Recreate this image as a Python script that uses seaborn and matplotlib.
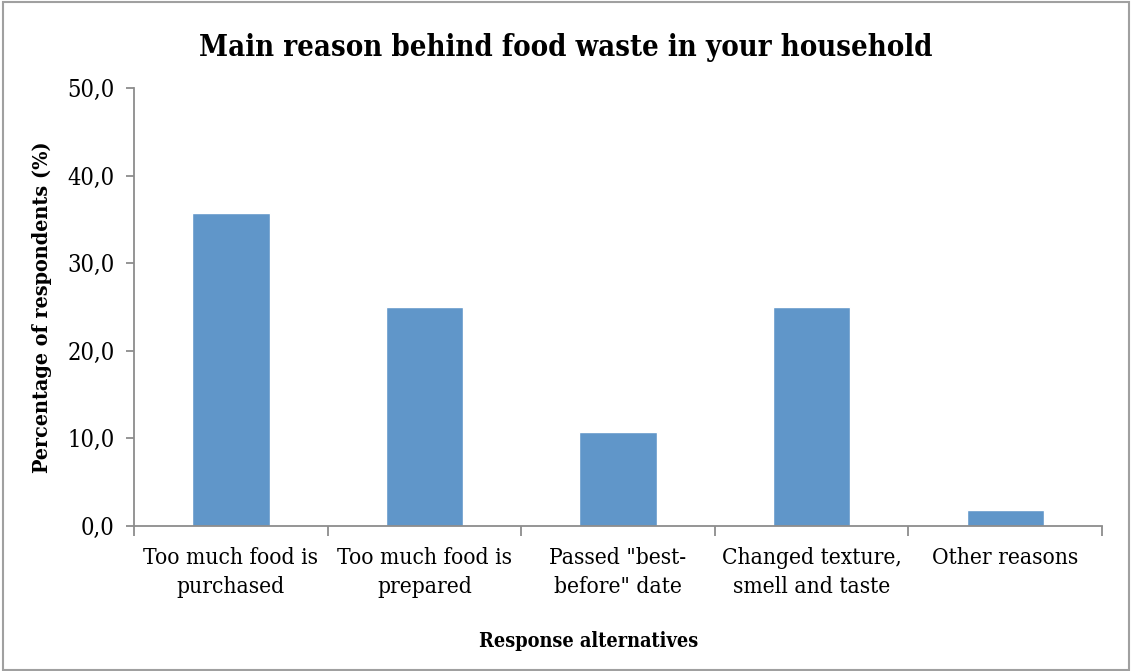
import matplotlib
matplotlib.use("Agg")
import matplotlib.pyplot as plt
from matplotlib.patches import Rectangle
from matplotlib.ticker import FuncFormatter, MultipleLocator
import seaborn as sns
import pandas as pd

categories = [
    "Too much food is\npurchased",
    "Too much food is\nprepared",
    "Passed \"best-\nbefore\" date",
    "Changed texture,\nsmell and taste",
    "Other reasons",
]
percentages = [35.7, 25.0, 10.7, 25.0, 1.8]

title = "Main reason behind food waste in your household"
x_label = "Response alternatives"
y_label = "Percentage of respondents (%)"

sns.set_style("white")
plt.rcParams["font.family"] = ["DejaVu Serif"]
plt.rcParams["font.stretch"] = "condensed"
plt.rcParams["text.color"] = "black"
plt.rcParams["axes.labelcolor"] = "black"
plt.rcParams["xtick.color"] = "black"
plt.rcParams["ytick.color"] = "black"

df = pd.DataFrame({"reason": categories, "pct": percentages})

fig = plt.figure(figsize=(11.31, 6.71), dpi=100)
ax = fig.add_axes([0.1185, 0.2161, 0.9744 - 0.1185, 0.8689 - 0.2161])

sns.barplot(data=df, x="reason", y="pct", color="#6096C9", width=0.4,
            saturation=1, ax=ax)

axis_grey = "#8C8C8C"
ax.set_ylim(0, 50)
ax.set_xlim(-0.5, len(categories) - 0.5)
ax.yaxis.set_major_locator(MultipleLocator(10))
ax.yaxis.set_major_formatter(FuncFormatter(lambda v, _: f"{v:.1f}".replace(".", ",")))

for side in ("top", "right"):
    ax.spines[side].set_visible(False)
for side in ("left", "bottom"):
    ax.spines[side].set_color(axis_grey)
    ax.spines[side].set_linewidth(1.3)

# category boundary ticks on the x axis
ax.set_xticks([i for i in range(len(categories))])
ax.set_xticklabels(categories, fontsize=16.3, linespacing=1.45)
ax.tick_params(axis="x", length=0, pad=15)
ax.set_xticks([i - 0.5 for i in range(len(categories) + 1)], minor=True)
ax.tick_params(axis="x", which="minor", length=7, width=1.3, color=axis_grey,
               direction="out", bottom=True)
ax.tick_params(axis="y", length=6, width=1.3, color=axis_grey, direction="out",
               labelsize=17, labelcolor="black", pad=8, left=True)
ax.set_xlabel("")

ax.set_ylabel(y_label, fontsize=15.4, fontweight="bold", labelpad=11)
fig.text(589 / 1131, 1 - 641 / 671, x_label, ha="center", va="center",
         fontsize=14.2, fontweight="bold")
fig.text(0.5, 1 - 47 / 671, title, ha="center", va="center", fontsize=21,
         fontweight="bold")

fig.patches.append(Rectangle((0.003, 0.002), 0.995, 0.995, transform=fig.transFigure,
                             fill=False, edgecolor="#A0A0A0", linewidth=1.5))

fig.savefig("out.png", dpi=100, facecolor="white")
